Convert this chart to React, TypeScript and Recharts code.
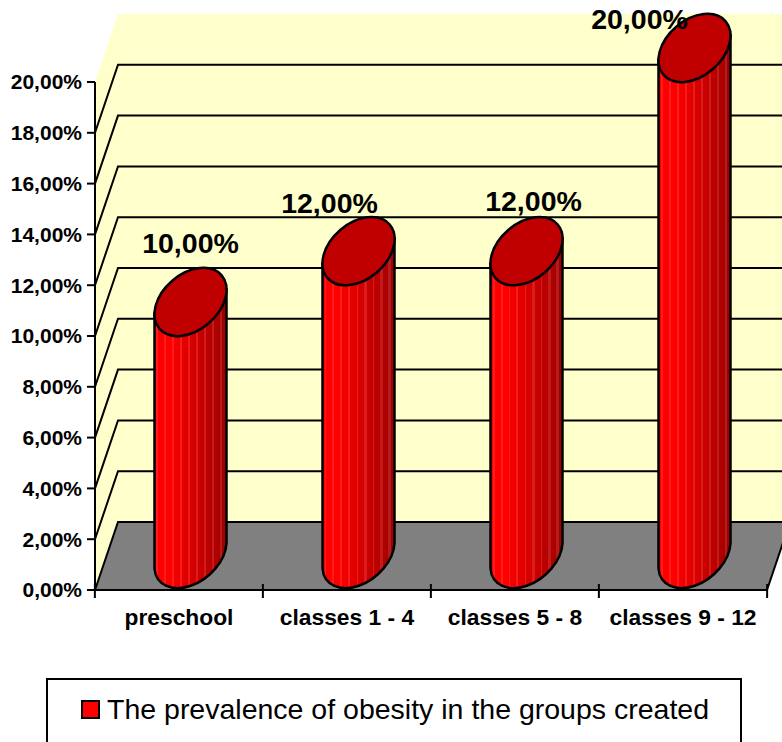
import {Bar, BarChart, LabelList, Legend, ReferenceArea, ReferenceLine, XAxis, YAxis} from 'recharts';

const categories = ['preschool', 'classes 1 - 4', 'classes 5 - 8', 'classes 9 - 12'];
const prevalence = [10, 12, 12, 20];
const valueTicks = [0, 2, 4, 6, 8, 10, 12, 14, 16, 18, 20];
const seriesName = 'The prevalence of obesity in the groups created';

// hand placed data labels, they do not sit centred in the original
const labelNudgeX = [0, -29, 7, -55];
const labelNudgeY = [-15, -4, -6, 15];

const chartData = categories.map((group, i) => ({group, rate: prevalence[i]}));

const FONT = '"Liberation Sans", Arial, sans-serif';
const DEPTH_X = 23;
const DEPTH_Y = 68;
const CATEGORY_W = 168.25;
const ELL_A = 41;
const ELL_B = 28;
const ELL_ROT = -40.6;
const ELL_TANGENT = 12.5;

const percent = (v: number) => `${v.toFixed(2).replace('.', ',')}%`;

// vertical shading of the cylinder, cut into bands with thin light stripes like the original
const bands = Array.from({length: 36}, (_, i) => {
    const t = i / 35;
    const r = t < 0.2 ? 255 : Math.round(255 - (t - 0.2) * 120);
    const light = i % 4 === 1;
    return {
        from: i / 36,
        to: (i + 1) / 36,
        color: light ? `rgb(${Math.min(255, r + 12)},28,28)` : `rgb(${r},0,0)`,
    };
});

function Walls(props: any) {
    const {x, y, width, height} = props;
    const bottom = y + height;
    const right = x + width;
    return (
        <g>
            <polygon
                points={`${x},${bottom} ${x},${y} ${x + DEPTH_X},${y - DEPTH_Y} ${right + DEPTH_X},${y - DEPTH_Y} ${right + DEPTH_X},${bottom - DEPTH_Y} ${x + DEPTH_X},${bottom - DEPTH_Y}`}
                fill="#FFFFCC"
            />
            <polygon
                points={`${x},${bottom} ${x + DEPTH_X},${bottom - DEPTH_Y} ${right + DEPTH_X},${bottom - DEPTH_Y} ${right},${bottom}`}
                fill="#808080"
                stroke="#000"
                strokeWidth={2}
            />
        </g>
    );
}

function WallLine(props: any) {
    const {x1, x2, y1} = props;
    return (
        <polyline
            points={`${x1},${y1} ${x1 + DEPTH_X},${y1 - DEPTH_Y} ${x2 + DEPTH_X},${y1 - DEPTH_Y}`}
            fill="none"
            stroke="#000"
            strokeWidth={2}
        />
    );
}

function Cylinder(props: any) {
    const {x, y, width, height} = props;
    const cx = x + width / 2 + DEPTH_X / 2;
    const topY = y - DEPTH_Y / 2;
    const baseY = y + height - DEPTH_Y / 2;
    const l = cx - width / 2;
    const r = cx + width / 2;
    const arc = `A ${ELL_A} ${ELL_B} ${ELL_ROT} 0 0`;
    const body = `M ${l} ${topY + ELL_TANGENT} L ${l} ${baseY + ELL_TANGENT} ${arc} ${r} ${baseY - ELL_TANGENT} L ${r} ${topY - ELL_TANGENT} Z`;
    return (
        <g>
            <path d={body} fill="url(#cylinderBands)" stroke="#000" strokeWidth={2.5}/>
            <ellipse
                cx={cx}
                cy={topY}
                rx={ELL_A}
                ry={ELL_B}
                transform={`rotate(${ELL_ROT} ${cx} ${topY})`}
                fill="#C00000"
                stroke="#000"
                strokeWidth={2.5}
            />
        </g>
    );
}

function CategoryTick(props: any) {
    const {x, y, payload, index} = props;
    const left = x - CATEGORY_W / 2;
    return (
        <g>
            <line x1={left} x2={left} y1={y - 14} y2={y} stroke="#000" strokeWidth={2}/>
            {index === categories.length - 1 && (
                <line x1={left + CATEGORY_W} x2={left + CATEGORY_W} y1={y - 14} y2={y} stroke="#000" strokeWidth={2}/>
            )}
            <text x={x} y={y + 27} textAnchor="middle" fontFamily={FONT} fontWeight="bold" fontSize={22.8} fill="#000">
                {payload.value}
            </text>
        </g>
    );
}

function ValueLabel(props: any) {
    const {x, y, width, value, index} = props;
    const cx = x + width / 2 + DEPTH_X / 2 + labelNudgeX[index];
    return (
        <text
            x={cx}
            y={y - DEPTH_Y + labelNudgeY[index]}
            textAnchor="middle"
            fontFamily={FONT}
            fontWeight="bold"
            fontSize={28.5}
            fill="#000"
        >
            {percent(Number(value))}
        </text>
    );
}

function LegendBox({payload}: any) {
    const item = payload && payload[0];
    return (
        <div
            style={{
                boxSizing: 'border-box',
                width: 696,
                height: 64,
                border: '2px solid #000',
                borderBottom: 'none',
                background: '#fff',
                display: 'flex',
                alignItems: 'center',
                paddingLeft: 33,
                paddingBottom: 4,
                fontFamily: FONT,
                fontSize: 28.5,
                color: '#000',
            }}
        >
            <span
                style={{
                    display: 'inline-block',
                    boxSizing: 'border-box',
                    width: 19,
                    height: 19,
                    marginRight: 7,
                    background: '#f00',
                    border: '2px solid #000',
                }}
            />
            {item ? item.value : seriesName}
        </div>
    );
}

export default function App() {
    return (
        <div style={{position: 'absolute', left: 0, top: 0, width: 782, height: 742, overflow: 'hidden', background: '#fff'}}>
            <BarChart
                width={782}
                height={742}
                data={chartData}
                margin={{top: 82, right: 15, bottom: 48, left: 35}}
            >
                <defs>
                    <linearGradient id="cylinderBands" x1="0" x2="1" y1="0" y2="0">
                        {bands.map((b, i) => [
                            <stop key={`${i}a`} offset={b.from} stopColor={b.color}/>,
                            <stop key={`${i}b`} offset={b.to} stopColor={b.color}/>,
                        ])}
                    </linearGradient>
                </defs>
                <ReferenceArea y1={0} y2={20} shape={Walls} ifOverflow="visible" zIndex={-20}/>
                {valueTicks.slice(1, -1).map(t => (
                    <ReferenceLine key={t} y={t} shape={WallLine} ifOverflow="visible" zIndex={-10}/>
                ))}
                <XAxis
                    dataKey="group"
                    height={40}
                    tickLine={false}
                    axisLine={{stroke: '#000', strokeWidth: 2}}
                    tick={CategoryTick}
                    interval={0}
                />
                <YAxis
                    width={60}
                    domain={[0, 20]}
                    ticks={valueTicks}
                    tickFormatter={percent}
                    tickSize={8}
                    tickMargin={5}
                    tickLine={{stroke: '#000', strokeWidth: 2}}
                    axisLine={{stroke: '#000', strokeWidth: 2}}
                    tick={{fill: '#000', fontFamily: FONT, fontWeight: 'bold', fontSize: 21}}
                    interval={0}
                />
                <Legend
                    content={LegendBox}
                    wrapperStyle={{left: 46, bottom: 0, width: 696, height: 64}}
                />
                <Bar
                    dataKey="rate"
                    name={seriesName}
                    fill="#f00"
                    barSize={72}
                    shape={Cylinder}
                    isAnimationActive={false}
                >
                    <LabelList dataKey="rate" content={ValueLabel}/>
                </Bar>
            </BarChart>
        </div>
    );
}
